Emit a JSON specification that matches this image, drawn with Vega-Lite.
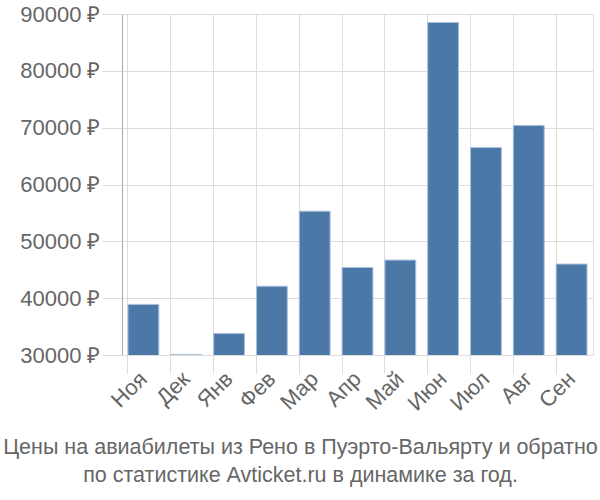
{
  "$schema": "https://vega.github.io/schema/vega-lite/v6.json",
  "width": 471,
  "height": 341,
  "autosize": {"type": "none"},
  "padding": {"left": 122, "top": 14, "right": 7, "bottom": 145},
  "background": "white",
  "config": {
    "font": "Liberation Sans",
    "view": {"stroke": "#dddddd", "strokeWidth": 1}
  },
  "title": {
    "text": ["Цены на авиабилеты из Рено в Пуэрто-Вальярту и обратно", "по статистике Avticket.ru в динамике за год."],
    "orient": "bottom",
    "anchor": "middle",
    "dx": -57,
    "offset": 23,
    "fontSize": 21.5,
    "fontWeight": "normal",
    "color": "#666666",
    "lineHeight": 28,
    "font": "Liberation Sans"
  },
  "data": {
    "values": [
      {"month": "Ноя", "price": 38900},
      {"month": "Дек", "price": 30100},
      {"month": "Янв", "price": 33800},
      {"month": "Фев", "price": 42100},
      {"month": "Мар", "price": 55300},
      {"month": "Апр", "price": 45400},
      {"month": "Май", "price": 46700},
      {"month": "Июн", "price": 88500},
      {"month": "Июл", "price": 66500},
      {"month": "Авг", "price": 70400},
      {"month": "Сен", "price": 46000}
    ]
  },
  "mark": {"type": "bar", "fill": "#4c78a8", "stroke": "#a9c0da", "strokeWidth": 1, "clip": true},
  "encoding": {
    "x": {
      "field": "month",
      "type": "nominal",
      "sort": null,
      "scale": {"paddingInner": 0.28, "paddingOuter": 0.14},
      "axis": {
        "title": null,
        "labelAngle": -45,
        "labelAlign": "right",
        "labelBaseline": "middle",
        "labelFontSize": 22,
        "labelColor": "#666666",
        "labelPadding": 2,
        "labelOverlap": false,
        "bandPosition": 0,
        "grid": true,
        "gridColor": "#dddddd",
        "tickColor": "#dddddd",
        "tickSize": 18,
        "domain": false
      }
    },
    "y": {
      "field": "price",
      "type": "quantitative",
      "scale": {"domain": [30000, 90000], "nice": false, "zero": false},
      "axis": {
        "title": null,
        "values": [30000, 40000, 50000, 60000, 70000, 80000, 90000],
        "labelExpr": "datum.value + ' ₽'",
        "labelFontSize": 22,
        "labelColor": "#666666",
        "labelPadding": 2,
        "labelOverlap": false,
        "grid": true,
        "gridColor": "#dddddd",
        "tickColor": "#dddddd",
        "tickSize": 20,
        "domain": true,
        "domainColor": "#aaaaaa"
      }
    }
  }
}
